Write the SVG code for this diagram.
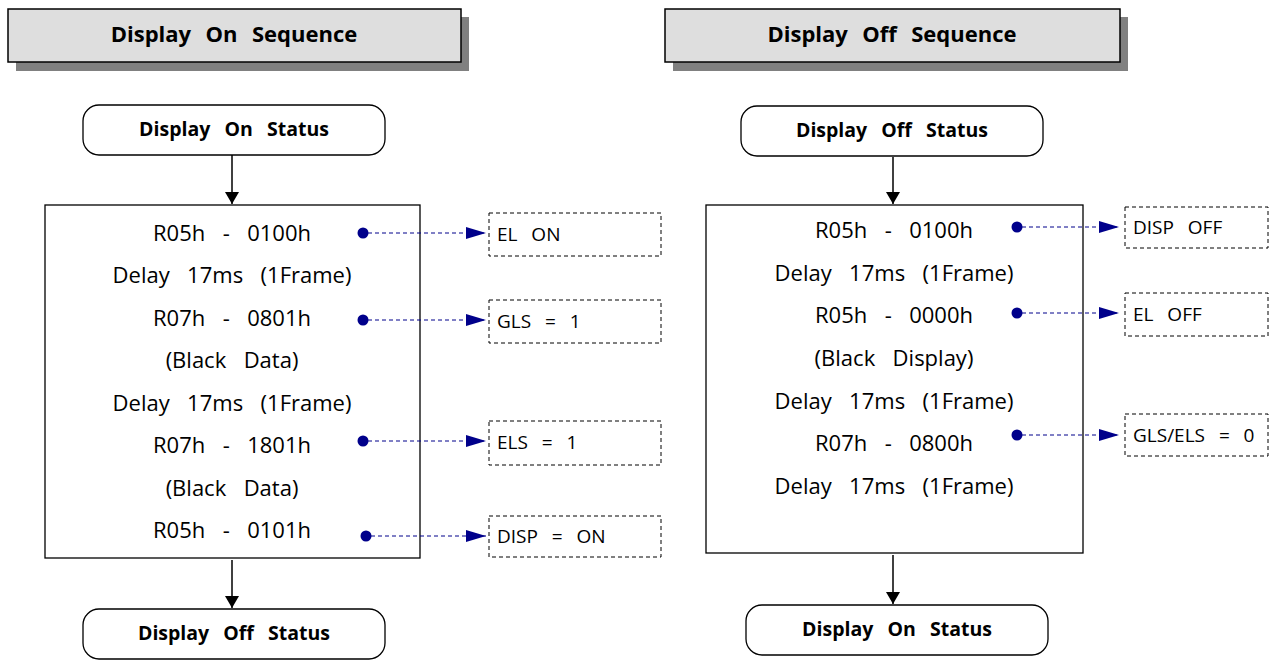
<svg xmlns="http://www.w3.org/2000/svg" width="1282" height="660" viewBox="0 0 1282 660">
<defs>
<style>
text{font-family:"Open Sans","Noto Sans","Liberation Sans",sans-serif;white-space:pre;fill:#000}
.hdr{font-size:22px;font-weight:bold;text-anchor:middle;word-spacing:1.5px}
.st{font-size:19.5px;font-weight:bold;text-anchor:middle;word-spacing:2px}
.main{font-size:22px;text-anchor:middle;word-spacing:3px}
.lbl{font-size:19px;word-spacing:2px}
.box{fill:#fff;stroke:#000;stroke-width:1.3}
.hbox{fill:#dedede;stroke:#000;stroke-width:1.5}
.shadow{fill:#808080}
.dbox{fill:#fff;stroke:#000;stroke-width:1;stroke-dasharray:4 3}
.flow{stroke:#000;stroke-width:1.5;fill:none}
.dash{stroke:#00008b;stroke-width:1;stroke-dasharray:4 3;fill:none}
.dot{fill:#00008b}
</style>
<marker id="ah" viewBox="0 0 12 14" refX="12" refY="7" markerWidth="12" markerHeight="14" markerUnits="userSpaceOnUse" orient="auto"><path d="M0,0 L12,7 L0,14 Z" fill="#000"/></marker>
<marker id="bh" viewBox="0 0 20 12" refX="20" refY="6" markerWidth="20" markerHeight="12" markerUnits="userSpaceOnUse" orient="auto"><path d="M0,0 L20,6 L0,12 Z" fill="#00008b"/></marker>
</defs>

<g id="hdr-on">
<rect class="shadow" x="16" y="17" width="453" height="54"/>
<rect class="hbox" x="8" y="9" width="453" height="53"/>
<text class="hdr" x="234" y="42">Display  On  Sequence</text>
</g>
<g id="hdr-off">
<rect class="shadow" x="673" y="17" width="455" height="54"/>
<rect class="hbox" x="665" y="9" width="455" height="53"/>
<text class="hdr" x="892" y="42">Display  Off  Sequence</text>
</g>

<g id="on-start">
<rect class="box" x="83" y="105" width="302" height="50" rx="16"/>
<text class="st" x="234" y="136">Display  On  Status</text>
</g>
<g id="on-seq">
<rect class="box" x="45" y="205" width="375" height="353"/>
<text class="main" x="232" y="241">R05h  -  0100h</text>
<text class="main" x="232" y="283">Delay  17ms  (1Frame)</text>
<text class="main" x="232" y="326">R07h  -  0801h</text>
<text class="main" x="232" y="368">(Black  Data)</text>
<text class="main" x="232" y="411">Delay  17ms  (1Frame)</text>
<text class="main" x="232" y="453">R07h  -  1801h</text>
<text class="main" x="232" y="496">(Black  Data)</text>
<text class="main" x="232" y="538">R05h  -  0101h</text>
</g>
<g id="on-end">
<rect class="box" x="83" y="609" width="302" height="50" rx="16"/>
<text class="st" x="234" y="640">Display  Off  Status</text>
</g>
<g id="lbl-elon"><rect class="dbox" x="489" y="213" width="172" height="43"/><text class="lbl" x="497" y="241">EL  ON</text></g>
<g id="lbl-gls"><rect class="dbox" x="489" y="300" width="172" height="43"/><text class="lbl" x="497" y="328">GLS  =  1</text></g>
<g id="lbl-els"><rect class="dbox" x="489" y="421" width="172" height="44"/><text class="lbl" x="497" y="449">ELS  =  1</text></g>
<g id="lbl-disp"><rect class="dbox" x="489" y="516" width="172" height="41"/><text class="lbl" x="497" y="543">DISP  =  ON</text></g>

<g id="off-start">
<rect class="box" x="741" y="106" width="302" height="50" rx="16"/>
<text class="st" x="892" y="137">Display  Off  Status</text>
</g>
<g id="off-seq">
<rect class="box" x="706" y="205" width="377" height="348"/>
<text class="main" x="894" y="238">R05h  -  0100h</text>
<text class="main" x="894" y="281">Delay  17ms  (1Frame)</text>
<text class="main" x="894" y="323">R05h  -  0000h</text>
<text class="main" x="894" y="366">(Black  Display)</text>
<text class="main" x="894" y="409">Delay  17ms  (1Frame)</text>
<text class="main" x="894" y="451">R07h  -  0800h</text>
<text class="main" x="894" y="494">Delay  17ms  (1Frame)</text>
</g>
<g id="off-end">
<rect class="box" x="746" y="605" width="302" height="50" rx="16"/>
<text class="st" x="897" y="636">Display  On  Status</text>
</g>
<g id="lbl-dispoff"><rect class="dbox" x="1125" y="207" width="143" height="41"/><text class="lbl" x="1133" y="234">DISP  OFF</text></g>
<g id="lbl-eloff"><rect class="dbox" x="1125" y="293" width="143" height="43"/><text class="lbl" x="1133" y="321">EL  OFF</text></g>
<g id="lbl-glsels"><rect class="dbox" x="1125" y="414" width="143" height="42"/><text class="lbl" x="1133" y="442">GLS/ELS  =  0</text></g>

<g id="connectors">
<line class="flow" x1="232" y1="155" x2="232" y2="204" marker-end="url(#ah)"/>
<line class="flow" x1="232" y1="560" x2="232" y2="608" marker-end="url(#ah)"/>
<line class="flow" x1="893" y1="157" x2="893" y2="204" marker-end="url(#ah)"/>
<line class="flow" x1="893" y1="555" x2="893" y2="604" marker-end="url(#ah)"/>

<circle class="dot" cx="363" cy="233" r="5.5"/>
<line class="dash" x1="368" y1="233" x2="486" y2="233" marker-end="url(#bh)"/>
<circle class="dot" cx="363" cy="320" r="5.5"/>
<line class="dash" x1="368" y1="320" x2="486" y2="320" marker-end="url(#bh)"/>
<circle class="dot" cx="363" cy="441" r="5.5"/>
<line class="dash" x1="368" y1="441" x2="486" y2="441" marker-end="url(#bh)"/>
<circle class="dot" cx="366" cy="536" r="5.5"/>
<line class="dash" x1="371" y1="536" x2="486" y2="536" marker-end="url(#bh)"/>

<circle class="dot" cx="1017" cy="227" r="5.5"/>
<line class="dash" x1="1022" y1="227" x2="1119" y2="227" marker-end="url(#bh)"/>
<circle class="dot" cx="1017" cy="313" r="5.5"/>
<line class="dash" x1="1022" y1="313" x2="1119" y2="313" marker-end="url(#bh)"/>
<circle class="dot" cx="1017" cy="435" r="5.5"/>
<line class="dash" x1="1022" y1="435" x2="1119" y2="435" marker-end="url(#bh)"/>
</g>
</svg>
